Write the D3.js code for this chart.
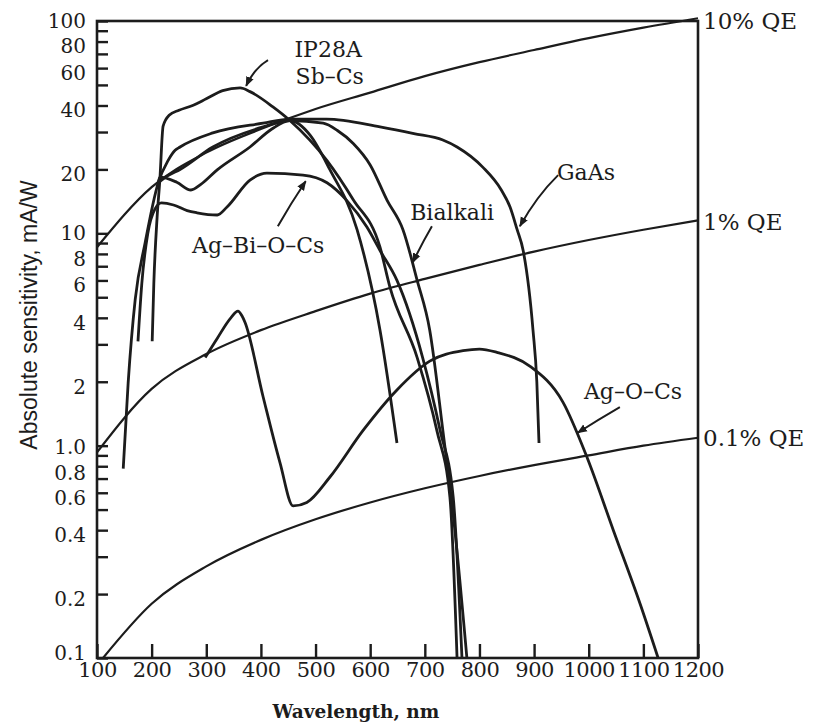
<!DOCTYPE html>
<html>
<head>
<meta charset="utf-8">
<script src="https://cdn.jsdelivr.net/npm/d3@7"></script>
<style>
  body { margin: 0; background: #fff; }
</style>
</head>
<body>
<svg width="814" height="724"></svg>
<script>
// points: [wavelength nm, sensitivity mA/W]
const sbCs = [[201,3.1],[204,5.8],[210,11.9],[215,17.8],[221,32],[232,36],[250,38],[275,40],[300,43],[330,47],[362,48.4],[380,46.5],[422,39.4],[453,34],[521,22],[569,14.4],[618,8.6],[636,5.6],[686,2.6],[722,1.18],[746,0.57],[759,0.1]];
const agBiOCs = [[175,3.1],[182,5.8],[193,10],[206,13],[218,13.9],[240,13.6],[265,12.8],[283,12.5],[320,12.2],[338,13.3],[380,17.8],[411,19.2],[477,18.8],[521,17.3],[557,14.3],[594,10.7],[618,8.3],[649,6],[696,2.6],[728,1.18],[752,0.57],[768,0.1]];
const bialkali = [[212,17.3],[230,18.7],[252,20],[312,25.5],[404,31.7],[453,34],[514,33],[540,30.5],[569,26.5],[600,21],[631,14.3],[660,10.4],[686,6],[709,3.5],[733,1.18],[755,0.4],[777,0.1]];
const gaAs = [[148,0.78],[157,1.97],[170,4.9],[188,9],[212,17.3],[230,22],[243,24.6],[252,25.5],[312,29.7],[404,33],[453,34.5],[520,34.5],[618,31.7],[680,29.5],[733,27.5],[759,25.5],[806,20.5],[840,16],[856,13.3],[869,10.4],[880,8.3],[898,3.5],[905,2],[909,1.03]];
const otherCathode = [[212,17.3],[215,18.4],[246,17.4],[272,16],[290,17],[320,19.9],[380,25.5],[420,31],[453,34],[490,29],[526,20],[576,10.4],[618,3.5],[649,1.03]];
const agOCs = [[298,2.6],[320,3.2],[345,4.0],[358,4.3],[365,4.1],[371,3.8],[404,1.7],[435,0.83],[459,0.52],[484,0.54],[526,0.71],[587,1.18],[649,1.83],[709,2.5],[770,2.8],[800,2.85],[832,2.75],[892,2.37],[953,1.6],[997,0.88],[1045,0.4],[1094,0.18],[1127,0.1]];

// constant quantum efficiency lines
const qe10 = [[100,8.6],[200,16.5],[300,24],[400,31],[500,38.5],[600,46],[700,55],[800,64],[900,73],[1000,83],[1100,93],[1200,103]];
const qe1 = [[100,0.93],[200,1.85],[300,2.7],[400,3.5],[500,4.3],[600,5.2],[700,6.1],[800,7.1],[900,8.2],[1000,9.3],[1100,10.4],[1200,11.5]];
const qe01 = [[111,0.1],[200,0.18],[300,0.27],[400,0.36],[500,0.45],[600,0.54],[700,0.63],[800,0.72],[900,0.81],[1000,0.9],[1100,1.0],[1200,1.09]];

const xTicks = [100,200,300,400,500,600,700,800,900,1000,1100,1200];
const yTicks = [0.1,0.2,0.3,0.4,0.5,0.6,0.7,0.8,0.9,1,2,3,4,5,6,7,8,9,10,20,30,40,50,60,70,80,90,100];
const yLabels = {0.1:"0.1",0.2:"0.2",0.4:"0.4",0.6:"0.6",0.8:"0.8",1:"1.0",2:"2",4:"4",6:"6",8:"8",10:"10",20:"20",40:"40",60:"60",80:"80",100:"100"};

const svg = d3.select("svg");
const ink = "#1c1c1c";
const serif = "'DejaVu Serif', serif";

const x = d3.scaleLinear().domain([100, 1200]).range([97, 698]);
const y = d3.scaleLog().domain([0.1, 100]).range([658, 21]);

// axes with ticks pointing inward
svg.append("g")
  .attr("transform", "translate(" + x(100) + ",0)")
  .call(d3.axisLeft(y).tickValues(yTicks).tickSizeInner(-11).tickSizeOuter(0).tickPadding(11)
    .tickFormat(function (d) { return yLabels[d] || ""; }))
  .call(function (g) { g.select(".domain").remove(); })
  .call(function (g) {
    g.selectAll("line").attr("stroke", ink).attr("stroke-width", 2.4);
    // printed labels sit a little below their ticks, except the decades
    g.selectAll("text").attr("font-family", serif).attr("font-size", 20).attr("fill", ink)
      .attr("y", function (d) {
        if (d === 100 || d === 10) return 0;
        if (d === 1) return 1;
        if (d === 0.1) return -5;
        if (d === 0.8) return 7;
        return 5;
      });
  });

svg.append("g")
  .attr("transform", "translate(0," + y(0.1) + ")")
  .call(d3.axisBottom(x).tickValues(xTicks).tickSizeInner(-14).tickSizeOuter(0).tickPadding(4)
    .tickFormat(d3.format("d")))
  .call(function (g) { g.select(".domain").remove(); })
  .call(function (g) {
    g.selectAll("line").attr("stroke", ink).attr("stroke-width", 2.4);
    g.selectAll("text").attr("font-family", serif).attr("font-size", 21).attr("fill", ink)
      .attr("letter-spacing", -0.5);
  });

// frame
svg.append("rect")
  .attr("x", x(100)).attr("y", y(100))
  .attr("width", x(1200) - x(100)).attr("height", y(0.1) - y(100))
  .attr("fill", "none").attr("stroke", ink).attr("stroke-width", 2.6);

const line = d3.line()
  .x(function (d) { return x(d[0]); })
  .y(function (d) { return y(d[1]); })
  .curve(d3.curveMonotoneX);

const plot = svg.append("g");

[qe10, qe1, qe01].forEach(function (s) {
  plot.append("path").datum(s).attr("d", line)
    .attr("fill", "none").attr("stroke", ink).attr("stroke-width", 2.2);
});

[sbCs, agBiOCs, bialkali, gaAs, otherCathode, agOCs].forEach(function (s) {
  plot.append("path").datum(s).attr("d", line)
    .attr("fill", "none").attr("stroke", ink).attr("stroke-width", 2.8)
    .attr("stroke-linejoin", "round");
});

// QE labels on the right
[["10% QE", 100], ["1% QE", 11.3], ["0.1% QE", 1.09]].forEach(function (q) {
  svg.append("text")
    .attr("x", 703).attr("y", y(q[1]))
    .attr("dy", "0.36em")
    .attr("font-family", serif).attr("font-size", 23).attr("fill", ink)
    .text(q[0]);
});

// arrowhead
svg.append("defs").append("marker")
  .attr("id", "head").attr("viewBox", "0 0 10 10")
  .attr("refX", 9).attr("refY", 5)
  .attr("markerWidth", 5).attr("markerHeight", 5)
  .attr("orient", "auto")
  .append("path").attr("d", "M0,1 L10,5 L0,9 z").attr("fill", ink);

// curve labels: [text, wavelength, value]
const labels = [["IP28A", 523, 74], ["Sb\u2013Cs", 526, 55], ["Ag\u2013Bi\u2013O\u2013Cs", 395, 8.8], ["Bialkali", 750, 12.6], ["GaAs", 995, 19.4], ["Ag\u2013O\u2013Cs", 1081, 1.8]];
labels.forEach(function (l) {
  svg.append("text")
    .attr("x", x(l[1])).attr("y", y(l[2]))
    .attr("dy", "0.36em").attr("text-anchor", "middle")
    .attr("font-family", serif).attr("font-size", 22).attr("fill", ink)
    .text(l[0]);
});

// pointers from labels to curves: [from, bend, to] as [wavelength, value]
const pointers = [
  [[413, 65.5], [388, 60], [373, 49.5]],
  [[431, 10.8], [456, 14], [482, 17.6]],
  [[713, 10.8], [695, 9], [678, 7.3]],
  [[944, 18.8], [905, 15], [874, 10.8]],
  [[1057, 1.52], [1018, 1.33], [980, 1.15]]
];
pointers.forEach(function (p) {
  svg.append("path")
    .attr("d", "M" + x(p[0][0]) + "," + y(p[0][1]) + " Q" + x(p[1][0]) + "," + y(p[1][1]) + " " + x(p[2][0]) + "," + y(p[2][1]))
    .attr("fill", "none").attr("stroke", ink).attr("stroke-width", 2)
    .attr("marker-end", "url(#head)");
});

// axis titles
svg.append("text")
  .attr("x", 356).attr("y", 711)
  .attr("dy", "0.36em").attr("text-anchor", "middle")
  .attr("font-family", serif).attr("font-weight", "bold").attr("font-size", 18.5).attr("fill", ink)
  .text("Wavelength, nm");

svg.append("text")
  .attr("transform", "translate(29,315) rotate(-90)")
  .attr("dy", "0.36em").attr("text-anchor", "middle")
  .attr("font-family", "'Liberation Sans', Arial, sans-serif").attr("font-size", 23).attr("fill", ink)
  .text("Absolute sensitivity, mA/W");
</script>
</body>
</html>
